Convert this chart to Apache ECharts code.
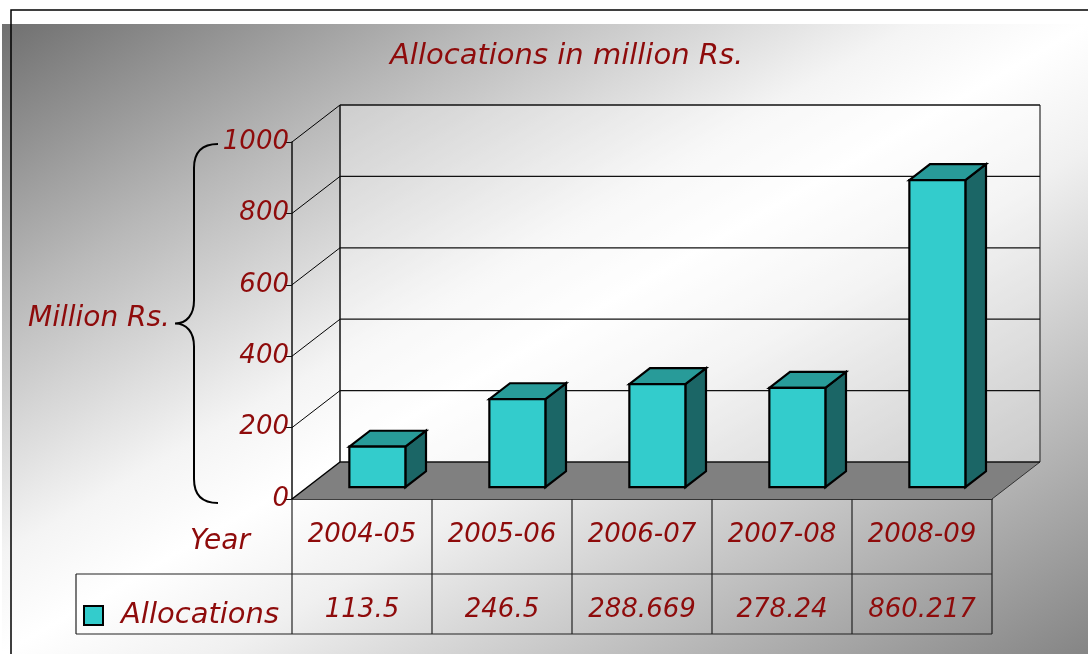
<!DOCTYPE html>
<html>
<head>
<meta charset="utf-8">
<script src="https://cdn.jsdelivr.net/npm/echarts@6/dist/echarts.min.js"></script>
<style>
  html, body { margin: 0; padding: 0; background: #fff; }
  #chart { width: 1088px; height: 654px; }
</style>
</head>
<body>
<div id="chart"></div>
<script>
// data
const years = ['2004-05', '2005-06', '2006-07', '2007-08', '2008-09'];
const allocations = [113.5, 246.5, 288.669, 278.24, 860.217];
const yTicks = [0, 200, 400, 600, 800, 1000];

// look
const RED = '#8e0b0b';
const FONT = '"DejaVu Sans"';
const DX = 48;   // depth offset of the back wall
const DY = -37;
const ROW1 = 75; // table row bottoms under the floor edge
const ROW2 = 135;
const TABLE_LEFT = 76;

const chart = echarts.init(document.getElementById('chart'));

// curly brace left of the value axis
function bracePath(xl, yTop, yBot) {
    const xe = xl - 74, xv = xl - 98, xt = xl - 117;
    const ym = (yTop + yBot) / 2;
    return `M${xe},${yTop} C${xv + 8},${yTop} ${xv},${yTop + 8} ${xv},${yTop + 24} `
        + `L${xv},${ym - 23} C${xv},${ym - 9} ${xv - 7},${ym} ${xt},${ym} `
        + `C${xv - 7},${ym} ${xv},${ym + 9} ${xv},${ym + 23} `
        + `L${xv},${yBot - 24} C${xv},${yBot - 8} ${xv + 8},${yBot} ${xe},${yBot}`;
}

// walls + floor, one item per tick
function renderWalls(params, api) {
    const v = api.value(1);
    const band = api.size([1, 0])[0];
    const p = api.coord([0, v]);
    const xl = p[0] - band / 2;
    const xr = xl + band * years.length;
    const y = p[1];
    const children = [];
    if (v === yTicks[0]) {
        const top = api.coord([0, yTicks[yTicks.length - 1]])[1];
        // back wall is a little lighter than the page
        children.push({
            type: 'rect',
            shape: { x: xl + DX, y: top + DY, width: xr - xl, height: y - top },
            style: { fill: 'rgba(255,255,255,0.3)' }
        });
        children.push({
            type: 'polygon',
            shape: { points: [[xl, y], [xr, y], [xr + DX, y + DY], [xl + DX, y + DY]] },
            style: { fill: '#808080' }
        });
        children.push({
            type: 'line',
            shape: { x1: xr, y1: y, x2: xr + DX, y2: y + DY },
            style: { stroke: '#333', lineWidth: 1 }
        });
        children.push({
            type: 'line',
            shape: { x1: xl + DX, y1: y + DY, x2: xl + DX, y2: top + DY },
            style: { stroke: '#111', lineWidth: 1.5 }
        });
        children.push({
            type: 'line',
            shape: { x1: xr + DX, y1: y + DY, x2: xr + DX, y2: top + DY },
            style: { stroke: '#555', lineWidth: 1.5 }
        });
        children.push({
            type: 'path',
            shape: { pathData: bracePath(xl, top + 2, y + 4) },
            style: { stroke: '#000', lineWidth: 2, fill: null }
        });
    }
    children.push({
        type: 'line',
        shape: { x1: xl, y1: y, x2: xl + DX, y2: y + DY },
        style: { stroke: '#000', lineWidth: v === yTicks[0] ? 1.5 : 1 }
    });
    children.push({
        type: 'line',
        shape: { x1: xl + DX, y1: y + DY, x2: xr + DX, y2: y + DY },
        style: { stroke: '#111', lineWidth: 1.3 }
    });
    return { type: 'group', children };
}

// 3d bars
function renderBars(params, api) {
    const i = api.value(0);
    const v = api.value(1);
    const base = api.coord([i, 0]);
    const top = api.coord([i, v]);
    const band = api.size([1, 0])[0];
    const bw = band * 0.4;
    const d0 = 0.32, d1 = 0.75;
    const x0 = base[0] - bw / 2 + d0 * DX;
    const x1 = x0 + bw;
    const yb = base[1] + d0 * DY;
    const yt = top[1] + d0 * DY;
    const ddx = (d1 - d0) * DX;
    const ddy = (d1 - d0) * DY;
    const edge = { stroke: '#000', lineWidth: 2.2, lineJoin: 'miter' };
    return {
        type: 'group',
        children: [
            {
                type: 'polygon',
                shape: { points: [[x1, yt], [x1 + ddx, yt + ddy], [x1 + ddx, yb + ddy], [x1, yb]] },
                style: Object.assign({ fill: '#1b6666' }, edge)
            },
            {
                type: 'polygon',
                shape: { points: [[x0, yt], [x1, yt], [x1 + ddx, yt + ddy], [x0 + ddx, yt + ddy]] },
                style: Object.assign({ fill: '#289b99' }, edge)
            },
            {
                type: 'rect',
                shape: { x: x0, y: yt, width: bw, height: yb - yt },
                style: Object.assign({ fill: '#33cccc' }, edge)
            }
        ]
    };
}

// data table under the floor
function renderTable(params, api) {
    const i = api.value(0);
    const v = api.value(1);
    const c = api.coord([i, 0]);
    const band = api.size([1, 0])[0];
    const left = i === 0 ? TABLE_LEFT : c[0] - band / 2;
    const right = c[0] + band / 2;
    const y = c[1];
    const line = { stroke: '#222', lineWidth: 1.2 };
    const children = [
        { type: 'line', shape: { x1: c[0] - band / 2, y1: y, x2: c[0] - band / 2, y2: y + ROW2 }, style: line },
        { type: 'line', shape: { x1: left, y1: y + ROW1, x2: right, y2: y + ROW1 }, style: line },
        { type: 'line', shape: { x1: left, y1: y + ROW2, x2: right, y2: y + ROW2 }, style: line },
        {
            type: 'text',
            x: c[0],
            y: y + ROW1 + 36,
            style: {
                text: String(v),
                fill: RED,
                font: 'italic 26px ' + FONT,
                textAlign: 'center',
                textVerticalAlign: 'middle'
            }
        }
    ];
    if (i === 0) {
        children.push({ type: 'line', shape: { x1: TABLE_LEFT, y1: y + ROW1, x2: TABLE_LEFT, y2: y + ROW2 }, style: line });
    }
    if (i === years.length - 1) {
        children.push({ type: 'line', shape: { x1: right, y1: y, x2: right, y2: y + ROW2 }, style: line });
    }
    return { type: 'group', children };
}

// background: dark corners, light diagonal band
const bgW = 1086, bgH = 630;
const k = 2 * bgW * bgH / (bgW * bgW + bgH * bgH);
const bgFill = new echarts.graphic.LinearGradient(2, 24, 2 + k * bgH, 24 + k * bgW, [
    { offset: 0, color: '#707070' },
    { offset: 0.22, color: '#b8b8b8' },
    { offset: 0.42, color: '#f4f4f4' },
    { offset: 0.5, color: '#ffffff' },
    { offset: 0.6, color: '#f0f0f0' },
    { offset: 1, color: '#858585' }
], true);

chart.setOption({
    animation: false,
    title: {
        text: 'Allocations in million Rs.',
        left: 390,
        top: 42,
        padding: 0,
        textStyle: { color: RED, fontFamily: FONT, fontStyle: 'italic', fontWeight: 'normal', fontSize: 29 }
    },
    legend: {
        data: [{ name: 'Allocations', itemStyle: { color: '#33cccc', borderColor: '#000', borderWidth: 2 } }],
        left: 83,
        top: 601,
        padding: 0,
        icon: 'rect',
        itemWidth: 19,
        itemHeight: 19,
        selectedMode: false,
        textStyle: { color: RED, fontFamily: FONT, fontStyle: 'italic', fontSize: 29, padding: [0, 0, 0, 13] }
    },
    grid: { left: 292, top: 142, width: 700, height: 357 },
    xAxis: {
        type: 'category',
        data: years,
        axisLine: { show: true, lineStyle: { color: '#000', width: 1.5 } },
        axisTick: { show: false },
        axisLabel: { interval: 0, margin: 23, color: RED, fontFamily: FONT, fontStyle: 'italic', fontSize: 26 }
    },
    yAxis: {
        type: 'value',
        min: 0,
        max: 1000,
        interval: 200,
        splitLine: { show: false },
        axisLine: { show: true, lineStyle: { color: '#111', width: 1.5 } },
        axisTick: { show: true, length: 6, lineStyle: { color: '#111' } },
        axisLabel: {
            margin: 3,
            color: RED,
            fontFamily: FONT,
            fontStyle: 'italic',
            fontSize: 26,
            formatter: v => String(v)
        }
    },
    graphic: [
        { type: 'rect', z: -100, shape: { x: 2, y: 24, width: bgW, height: bgH }, style: { fill: bgFill } },
        { type: 'polyline', z: 100, shape: { points: [[1088, 10], [11, 10], [11, 654]] }, style: { stroke: '#000', lineWidth: 1.5, fill: null } },
        {
            type: 'text', z: 100, x: 28, y: 319,
            style: { text: 'Million Rs.', fill: RED, font: 'italic 28px ' + FONT, textAlign: 'left', textVerticalAlign: 'middle' }
        },
        {
            type: 'text', z: 100, x: 250, y: 542,
            style: { text: 'Year', fill: RED, font: 'italic 28px ' + FONT, textAlign: 'right', textVerticalAlign: 'middle' }
        }
    ],
    series: [
        {
            name: 'walls',
            type: 'custom',
            renderItem: renderWalls,
            data: yTicks.map(v => [0, v]),
            silent: true,
            z: 1
        },
        {
            name: 'Allocations',
            type: 'custom',
            renderItem: renderBars,
            itemStyle: { color: '#33cccc' },
            data: allocations.map((v, i) => [i, v]),
            z: 3
        },
        {
            name: 'table',
            type: 'custom',
            renderItem: renderTable,
            data: allocations.map((v, i) => [i, v]),
            silent: true,
            z: 3
        }
    ]
});
</script>
</body>
</html>
